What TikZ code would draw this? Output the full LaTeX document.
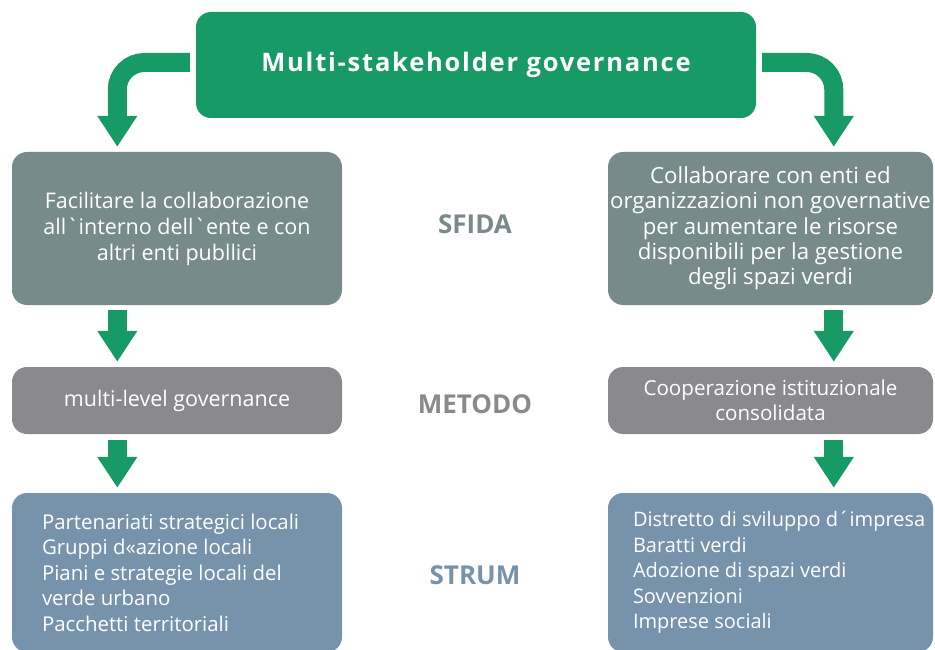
\documentclass[tikz,border=0pt]{standalone}
\usepackage{fontspec}
\setmainfont{Open Sans}
\usetikzlibrary{arrows.meta,calc}
\definecolor{govgreen}{HTML}{189A66}
\definecolor{sfidabox}{HTML}{778B8B}
\definecolor{metbox}{HTML}{8A898E}
\definecolor{strbox}{HTML}{7792AB}
\definecolor{sfidalab}{HTML}{7A8A8A}
\definecolor{metlab}{HTML}{8A8A8E}
\begin{document}
\begin{tikzpicture}[x=1pt,y=-1pt,
  box/.style={rounded corners=15pt, inner sep=0pt, text=white, align=center,
    font=\fontsize{21.5}{26}\selectfont},
  lab/.style={font=\fontsize{26}{30}\selectfont\bfseries},
  flow/.style={draw=govgreen, line width=19pt,
    -{Triangle[width=38pt 0 0,length=31pt 0 0]}},
  listtxt/.style={anchor=west, align=left, text=white, inner sep=0pt,
    font=\fontsize{20}{25.5}\selectfont}]
\useasboundingbox (0,0) rectangle (935,650);

\node[box, fill=govgreen, minimum width=560pt, minimum height=106pt,
  font=\fontsize{25.5}{30}\selectfont\bfseries\addfontfeature{LetterSpace=7}] (top) at (476,65)
  {Multi-stakeholder governance};

\node[box, fill=sfidabox, minimum width=330pt, minimum height=153pt] (s1l) at (177,228.5)
  {Facilitare la collaborazione\\all\textasciigrave interno dell\textasciigrave ente e con\\altri enti publlici};
\node[box, fill=sfidabox, minimum width=325pt, minimum height=153pt,
  font=\fontsize{22.2}{25.3}\selectfont] (s1r) at (770.5,228.5)
  {Collaborare con enti ed\\organizzazioni non governative\\per aumentare le risorse\\disponibili per la gestione\\degli spazi verdi};

\node[box, fill=metbox, minimum width=330pt, minimum height=67pt] (m1l) at (177,400.5)
  {multi-level governance};
\node[box, fill=metbox, minimum width=325pt, minimum height=67pt,
  font=\fontsize{20.6}{25}\selectfont] (m1r) at (770.5,400.5)
  {Cooperazione istituzionale\\consolidata};

\node[box, fill=strbox, minimum width=330pt, minimum height=159pt] (t1l) at (177,572.5) {};
\node[box, fill=strbox, minimum width=325pt, minimum height=159pt] (t1r) at (770.5,572.5) {};
\node[listtxt, font=\fontsize{20.4}{25.5}\selectfont] (t1ltxt) at ($(t1l.west)+(30,0)$)
  {Partenariati strategici locali\\Gruppi d«azione locali\\Piani e strategie locali del\\verde urbano\\Pacchetti territoriali};
\node[listtxt] (t1rtxt) at ($(t1r.west)+(25,0)$)
  {Distretto di sviluppo d´impresa\\Baratti verdi\\Adozione di spazi verdi\\Sovvenzioni\\Imprese sociali};

\node[lab, text=sfidalab] (lsf) at (475,224) {SFIDA};
\node[lab, text=metlab] (lme) at (475,404) {METODO};
\node[lab, text=strbox] (lst) at (475,575) {STRUM};

\draw[flow, rounded corners=27pt] ($(top.west)+(-6,-2.5)$) -| ($(s1l.north west)+(105.5,-5)$);
\draw[flow, rounded corners=27pt] ($(top.east)+(6,-2.5)$) -| ($(s1r.north west)+(226,-5)$);

\draw[flow] ($(s1l.south west)+(105.5,5)$) -- ($(m1l.north west)+(105.5,-5)$);
\draw[flow] ($(m1l.south west)+(105.5,6)$) -- ($(t1l.north west)+(105.5,-5)$);
\draw[flow] ($(s1r.south west)+(226,5)$) -- ($(m1r.north west)+(226,-5)$);
\draw[flow] ($(m1r.south west)+(226,6)$) -- ($(t1r.north west)+(226,-5)$);
\end{tikzpicture}
\end{document}
